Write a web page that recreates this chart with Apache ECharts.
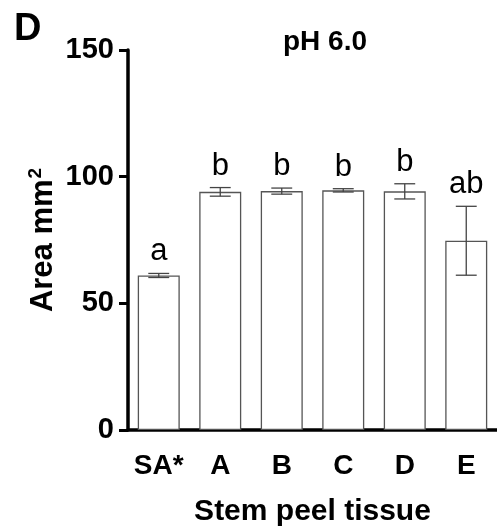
<!DOCTYPE html>
<html>
<head>
<meta charset="utf-8">
<script src="https://cdn.jsdelivr.net/npm/echarts@6/dist/echarts.min.js"></script>
<style>
  html, body { margin: 0; padding: 0; background: #fff; }
  #chart { width: 497px; height: 530px; }
</style>
</head>
<body>
<div id="chart"></div>
<script>
var categories = ['SA*', 'A', 'B', 'C', 'D', 'E'];
var means = [61, 94, 94.3, 94.6, 94.2, 74.7];
var errors = [0.8, 1.7, 1.2, 0.65, 3, 13.6];
var letters = ['a', 'b', 'b', 'b', 'b', 'ab'];

var FONT = 'Arial, "Liberation Sans", Helvetica, sans-serif';

var myChart = echarts.init(document.getElementById('chart'));

// error bar rows: [index, mean, sd]
var errData = means.map(function (m, i) {
    return [i, m, errors[i]];
});

var option = {
    animation: false,
    backgroundColor: '#fff',
    grid: { left: 128, right: 0, top: 50, bottom: 100, outerBoundsMode: 'none', containLabel: false },
    graphic: [
        {
            type: 'text', left: 14, top: 11,
            style: { text: 'D', font: 'bold 38px ' + FONT, fill: '#000' }
        },
        {
            type: 'text', left: 283, top: 28,
            style: { text: 'pH 6.0', font: 'bold 28px ' + FONT, fill: '#000' }
        }
    ],
    xAxis: {
        type: 'category',
        data: categories,
        name: 'Stem peel tissue',
        nameLocation: 'middle',
        nameGap: 67,
        nameMoveOverlap: false,
        nameTextStyle: { fontFamily: FONT, fontWeight: 'bold', fontSize: 30, color: '#000' },
        axisLine: { lineStyle: { color: '#000', width: 3.5 } },
        axisTick: { alignWithLabel: true, length: 10, lineStyle: { color: '#000', width: 3 } },
        axisLabel: { interval: 0, fontFamily: FONT, fontWeight: 'bold', fontSize: 28, color: '#000', margin: 22 }
    },
    yAxis: {
        type: 'value',
        min: 0,
        max: 150,
        interval: 50,
        name: '{t|Area mm}{s|2}',
        nameLocation: 'middle',
        nameGap: 67,
        nameMoveOverlap: false,
        nameTextStyle: {
            rich: {
                t: { fontFamily: FONT, fontWeight: 'bold', fontSize: 31, color: '#000' },
                s: { fontFamily: FONT, fontWeight: 'bold', fontSize: 19, color: '#000', padding: [0, 0, 16, 1] }
            }
        },
        splitLine: { show: false },
        axisLine: { show: true, lineStyle: { color: '#000', width: 3.5 } },
        axisTick: { show: true, length: 9, lineStyle: { color: '#000', width: 3 } },
        axisLabel: { fontFamily: FONT, fontWeight: 'bold', fontSize: 29, color: '#000', margin: 14 }
    },
    series: [
        {
            type: 'bar',
            data: means,
            barWidth: 42,
            itemStyle: { color: '#fff', borderColor: '#555', borderWidth: 1.3 }
        },
        {
            type: 'custom',
            data: errData,
            z: 5,
            renderItem: function (params, api) {
                var x = api.value(0);
                var m = api.value(1);
                var e = api.value(2);
                var hi = api.coord([x, m + e]);
                var lo = api.coord([x, m - e]);
                var half = api.size([1, 0])[0] * 0.17;
                var ls = { stroke: '#444', lineWidth: 1.3 };
                return {
                    type: 'group',
                    children: [
                        { type: 'line', shape: { x1: hi[0], y1: hi[1], x2: lo[0], y2: lo[1] }, style: ls },
                        { type: 'line', shape: { x1: hi[0] - half, y1: hi[1], x2: hi[0] + half, y2: hi[1] }, style: ls },
                        { type: 'line', shape: { x1: lo[0] - half, y1: lo[1], x2: lo[0] + half, y2: lo[1] }, style: ls },
                        {
                            type: 'text',
                            style: {
                                text: letters[params.dataIndex],
                                x: hi[0], y: hi[1] - 6,
                                align: 'center', verticalAlign: 'bottom',
                                font: '31px ' + FONT, fill: '#000'
                            }
                        }
                    ]
                };
            }
        }
    ]
};

myChart.setOption(option);
</script>
</body>
</html>
